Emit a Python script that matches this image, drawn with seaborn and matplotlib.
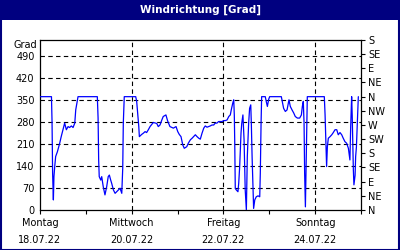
import matplotlib
matplotlib.use("Agg")
import matplotlib.pyplot as plt
import seaborn as sns
import pandas as pd
from matplotlib.patches import Rectangle

# ---- data ----
title = "Windrichtung [Grad]"
hours = [0.0, 6.0, 6.3, 6.6, 7.0, 7.3, 7.7, 8.2, 9.1, 10.3, 11.1, 12.0, 12.9, 13.8, 14.7, 15.5,
         16.4, 17.3, 18.2, 18.7, 19.5, 19.9, 30.0, 30.4, 30.7, 31.0, 31.8, 32.3, 33.1, 34.0, 34.9,
         35.7, 36.3, 37.0, 37.5, 38.4, 39.3, 40.1, 41.0, 41.9, 42.8, 43.3, 43.6, 44.1, 50.1, 50.6,
         51.1, 51.7, 52.0, 53.2, 54.1, 55.0, 55.8, 56.7, 57.6, 59.3, 61.1, 61.9, 62.8, 63.7, 64.5,
         65.9, 66.8, 68.0, 69.8, 71.2, 72.1, 72.9, 73.8, 74.7, 75.5, 76.8, 77.6, 78.7, 79.6, 80.4,
         81.3, 82.2, 83.1, 83.9, 84.8, 85.7, 86.5, 87.4, 88.3, 89.1, 90.0, 90.9, 91.7, 92.6, 93.5,
         95.3, 96.1, 97.0, 97.9, 98.8, 99.6, 100.1, 100.9, 101.4, 101.7, 101.9, 102.2, 102.7, 103.6,
         104.0, 104.5, 105.2, 105.6, 106.2, 106.8, 107.4, 108.0, 108.5, 109.2, 109.7, 110.3, 110.6,
         111.0, 111.5, 111.8, 112.4, 113.2, 114.1, 115.0, 115.3, 115.7, 116.0, 117.9, 118.4, 119.0,
         119.7, 120.2, 126.3, 126.8, 127.5, 128.4, 129.3, 129.8, 130.3, 131.0, 131.9, 132.8, 133.6,
         134.7, 135.9, 136.8, 137.3, 137.8, 138.2, 138.5, 138.9, 139.2, 139.6, 139.9, 148.8, 149.2,
         149.7, 150.0, 150.4, 150.9, 151.8, 152.7, 153.5, 154.4, 155.3, 156.1, 157.0, 157.9, 158.7,
         159.6, 160.5, 161.4, 162.2, 162.6, 163.1, 163.4, 164.0, 164.3, 164.9, 165.2, 165.6, 166.2,
         166.6]
degrees = [360, 360, 281, 117, 32, 106, 138, 170, 185, 212, 233, 255, 276, 255, 265, 262,
           267, 262, 276, 318, 345, 360, 360, 292, 159, 106, 95, 106, 74, 48, 74,
           106, 111, 95, 85, 64, 53, 58, 64, 69, 53, 133, 276, 360, 360, 345,
           308, 265, 233, 240, 244, 249, 246, 255, 265, 278, 275, 265, 270, 285, 297,
           302, 283, 265, 260, 265, 249, 240, 233, 207, 196, 201, 212, 223, 228, 233,
           239, 233, 228, 225, 244, 260, 267, 263, 265, 267, 270, 270, 276, 276, 281,
           281, 284, 284, 286, 297, 302, 318, 340, 350, 300, 223, 69, 64, 58,
           85, 138, 244, 276, 302, 223, 64, 0, 170, 276, 323, 334, 276,
           170, 64, 5, 32, 42, 45, 42, 117, 276, 360, 360, 345, 329,
           352, 360, 360, 345, 323, 313, 318, 334, 350, 329, 318, 308, 297,
           292, 292, 302, 329, 345, 276, 117, 10, 117, 276, 360, 360, 302,
           201, 138, 201, 228, 233, 239, 246, 255, 255, 239, 246, 239, 228,
           217, 212, 196, 159, 265, 360, 300, 127, 80, 110, 170, 200, 297,
           360]
day_names = ["Montag", "Mittwoch", "Freitag", "Sonntag"]
day_dates = ["18.07.22", "20.07.22", "22.07.22", "24.07.22"]
left_ticks = [0, 70, 140, 210, 280, 350, 420, 490]
compass = ["N", "NE", "E", "SE", "S", "SW", "W", "NW", "N", "NE", "E", "SE", "S"]

df = pd.DataFrame({"h": hours, "deg": degrees})

sns.set_style("white")
plt.rcParams["font.family"] = ["DejaVu Sans"]
plt.rcParams["text.color"] = "black"
plt.rcParams["xtick.color"] = "black"
plt.rcParams["ytick.color"] = "black"
navy = "#000080"

fig = plt.figure(figsize=(4, 2.5), dpi=100)
fig.patch.set_facecolor("white")
ax = fig.add_axes([40 / 400, 40 / 250, 321 / 400, 170 / 250])

sns.lineplot(data=df, x="h", y="deg", ax=ax, color="#0000FF", linewidth=0.9,
             estimator=None, sort=False, zorder=3)

ax.set_xlim(0, 168)
ax.set_ylim(0, 540)
ax.set_xlabel("")
ax.set_ylabel("")

# grid
for v in left_ticks[1:]:
    ax.axhline(v, color="black", lw=0.8, ls=(0, (4, 3)), zorder=1)
for d in [48, 96, 144]:
    ax.axvline(d, color="black", lw=0.8, ls=(0, (4, 3)), zorder=1)

for s in ax.spines.values():
    s.set_visible(True)
    s.set_color("black")
    s.set_linewidth(0.9)

ax.set_yticks(left_ticks)
ax.set_yticklabels([str(v) for v in left_ticks], fontsize=7, color="black")
ax.tick_params(axis="y", length=0, pad=4)
ax.text(-0.01, 525, "Grad", transform=ax.get_yaxis_transform(), ha="right", va="center",
        fontsize=7, color="black")

ax.set_xticks(list(range(0, 169, 24)))
labels = []
i = 0
for k in range(0, 169, 24):
    if k % 48 == 0 and k < 168:
        labels.append(day_names[i] + "\n" + day_dates[i])
        i += 1
    else:
        labels.append("")
ax.set_xticklabels(labels, fontsize=7, linespacing=1.85, color="black")
ax.tick_params(axis="x", direction="out", length=3, width=0.8, color="black", pad=3, bottom=True)

ax2 = ax.twinx()
ax2.set_ylim(0, 540)
ax2.set_yticks(list(range(0, 541, 45)))
ax2.set_yticklabels(compass, fontsize=7, color="black")
ax2.tick_params(axis="y", direction="out", length=3, width=0.8, color="black", pad=2, right=True)
for s in ax2.spines.values():
    s.set_visible(False)

# title bar & frame
fig.patches.append(Rectangle((0, 1 - 20 / 250), 1, 20 / 250, transform=fig.transFigure,
                             facecolor=navy, edgecolor="none", zorder=0))
fig.patches.append(Rectangle((0.5 / 400, 0.5 / 250), 1 - 1.5 / 400, 1 - 1.5 / 250,
                             transform=fig.transFigure, facecolor="none", edgecolor=navy,
                             linewidth=1.5, zorder=5))
fig.text(0.5, 1 - 10 / 250, title, color="white", fontsize=7.5, fontweight="bold",
         ha="center", va="center")

fig.savefig("out.png", dpi=100)
